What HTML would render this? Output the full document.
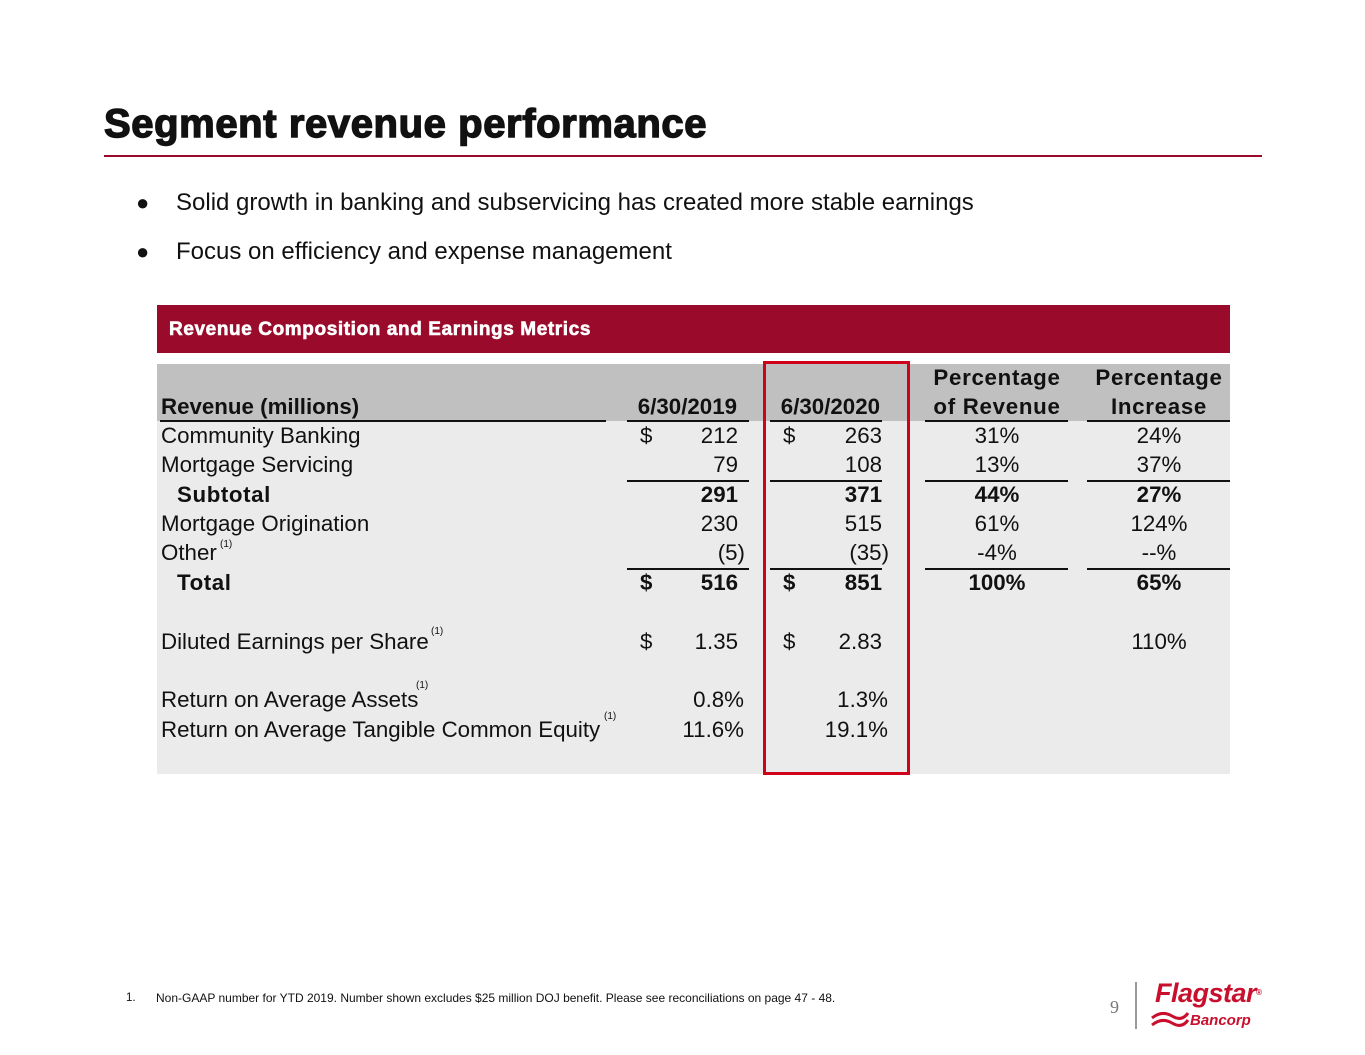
<!DOCTYPE html>
<html><head><meta charset="utf-8"><style>
body{margin:0;width:1365px;height:1055px;background:#fff;position:relative;overflow:hidden;font-family:"Liberation Sans",Arial,sans-serif;color:#111}
.a{position:absolute;white-space:nowrap;line-height:30px;font-size:22.3px}
.r{text-align:right}
.c{text-align:center;width:160px}
.b{font-weight:bold}
.l{position:absolute;height:2px;background:#111}
.s{position:absolute;font-size:10px;line-height:10px;white-space:nowrap}
</style></head><body>
<div class="a b" style="left:104px;top:101px;font-size:40px;line-height:46px;letter-spacing:0.6px;-webkit-text-stroke:1.4px #111">Segment revenue performance</div>
<div style="position:absolute;left:104px;top:155px;width:1158px;height:2px;background:#9b0a2a"></div>
<div class="a" style="left:136px;top:188px;font-size:22px">●</div>
<div class="a" style="left:176px;top:188px;font-size:24px">Solid growth in banking and subservicing has created more stable earnings</div>
<div class="a" style="left:136px;top:237px;font-size:22px">●</div>
<div class="a" style="left:176px;top:237px;font-size:24px">Focus on efficiency and expense management</div>

<div style="position:absolute;left:157px;top:305px;width:1073px;height:48px;background:#990a2b"></div>
<div class="a b" style="left:169px;top:315px;color:#fff;font-size:19px;letter-spacing:0.6px;-webkit-text-stroke:0.6px #fff">Revenue Composition and Earnings Metrics</div>
<div style="position:absolute;left:157px;top:364px;width:1073px;height:57px;background:#c0c0c0"></div>
<div style="position:absolute;left:157px;top:421px;width:1073px;height:353px;background:#ebebeb"></div>

<div class="a b" style="left:161px;top:392px">Revenue (millions)</div>
<div class="a b r" style="right:628px;top:392px">6/30/2019</div>
<div class="a b r" style="right:485px;top:392px">6/30/2020</div>
<div class="a b c" style="left:917px;top:363px;line-height:29px;letter-spacing:0.7px">Percentage<br>of Revenue</div>
<div class="a b c" style="left:1079px;top:363px;line-height:29px;letter-spacing:0.7px">Percentage<br>Increase</div>

<div class="l" style="left:160px;top:420px;width:446px"></div>
<div class="l" style="left:627px;top:420px;width:122px"></div>
<div class="l" style="left:770px;top:420px;width:112px"></div>
<div class="l" style="left:925px;top:420px;width:143px"></div>
<div class="l" style="left:1087px;top:420px;width:143px"></div>

<div class="l" style="left:627px;top:480px;width:122px"></div>
<div class="l" style="left:770px;top:480px;width:112px"></div>
<div class="l" style="left:925px;top:480px;width:143px"></div>
<div class="l" style="left:1087px;top:480px;width:143px"></div>
<div class="l" style="left:627px;top:568px;width:122px"></div>
<div class="l" style="left:770px;top:568px;width:112px"></div>
<div class="l" style="left:925px;top:568px;width:143px"></div>
<div class="l" style="left:1087px;top:568px;width:143px"></div>

<div class="a" style="left:161px;top:421px">Community Banking</div>
<div class="a" style="left:640px;top:421px">$</div>
<div class="a r" style="right:627px;top:421px">212</div>
<div class="a" style="left:783px;top:421px">$</div>
<div class="a r" style="right:483px;top:421px">263</div>
<div class="a c" style="left:917px;top:421px">31%</div>
<div class="a c" style="left:1079px;top:421px">24%</div>

<div class="a" style="left:161px;top:450px">Mortgage Servicing</div>
<div class="a r" style="right:627px;top:450px">79</div>
<div class="a r" style="right:483px;top:450px">108</div>
<div class="a c" style="left:917px;top:450px">13%</div>
<div class="a c" style="left:1079px;top:450px">37%</div>

<div class="a b" style="left:177px;top:480px;letter-spacing:0.6px">Subtotal</div>
<div class="a b r" style="right:627px;top:480px">291</div>
<div class="a b r" style="right:483px;top:480px">371</div>
<div class="a b c" style="left:917px;top:480px">44%</div>
<div class="a b c" style="left:1079px;top:480px">27%</div>

<div class="a" style="left:161px;top:509px">Mortgage Origination</div>
<div class="a r" style="right:627px;top:509px">230</div>
<div class="a r" style="right:483px;top:509px">515</div>
<div class="a c" style="left:917px;top:509px">61%</div>
<div class="a c" style="left:1079px;top:509px">124%</div>

<div class="a" style="left:161px;top:538px">Other</div>
<div class="s" style="left:220px;top:540px">(1)</div>
<div class="a r" style="right:620px;top:538px">(5)</div>
<div class="a r" style="right:476px;top:538px">(35)</div>
<div class="a c" style="left:917px;top:538px">-4%</div>
<div class="a c" style="left:1079px;top:538px">--%</div>

<div class="a b" style="left:177px;top:568px;letter-spacing:0.6px">Total</div>
<div class="a b" style="left:640px;top:568px">$</div>
<div class="a b r" style="right:627px;top:568px">516</div>
<div class="a b" style="left:783px;top:568px">$</div>
<div class="a b r" style="right:483px;top:568px">851</div>
<div class="a b c" style="left:917px;top:568px">100%</div>
<div class="a b c" style="left:1079px;top:568px">65%</div>

<div class="a" style="left:161px;top:627px">Diluted Earnings per Share</div>
<div class="s" style="left:431px;top:627px">(1)</div>
<div class="a" style="left:640px;top:627px">$</div>
<div class="a r" style="right:627px;top:627px">1.35</div>
<div class="a" style="left:783px;top:627px">$</div>
<div class="a r" style="right:483px;top:627px">2.83</div>
<div class="a c" style="left:1079px;top:627px">110%</div>

<div class="a" style="left:161px;top:685px">Return on Average Assets</div>
<div class="s" style="left:416px;top:681px">(1)</div>
<div class="a r" style="right:621px;top:685px">0.8%</div>
<div class="a r" style="right:477px;top:685px">1.3%</div>

<div class="a" style="left:161px;top:715px">Return on Average Tangible Common Equity</div>
<div class="s" style="left:604px;top:712px">(1)</div>
<div class="a r" style="right:621px;top:715px">11.6%</div>
<div class="a r" style="right:477px;top:715px">19.1%</div>

<div style="position:absolute;left:763px;top:361px;width:141px;height:408px;border:3px solid #d0021b"></div>

<div class="a" style="left:126px;top:983px;font-size:11.5px">1.</div>
<div class="a" style="left:156px;top:983px;font-size:12px">Non-GAAP number for YTD 2019. Number shown excludes $25 million DOJ benefit. Please see reconciliations on page 47 - 48.</div>
<div class="a" style="left:1110px;top:992px;font-size:18px;color:#777;font-family:'Liberation Serif',serif">9</div>
<div style="position:absolute;left:1135px;top:982px;width:2px;height:47px;background:#999"></div>
<div class="a b" style="left:1155px;top:978px;font-size:27px;color:#c8102e;font-style:italic;letter-spacing:-0.5px">Flagstar<span style="font-size:8px;vertical-align:top">®</span></div>
<div class="a b" style="left:1190px;top:1006px;font-size:15px;color:#c8102e;font-style:italic">Bancorp</div>
<svg style="position:absolute;left:1150px;top:1010px" width="40" height="18"><path d="M2 8 Q12 0 22 6 T38 3" stroke="#c8102e" stroke-width="3" fill="none"/><path d="M2 15 Q12 7 22 13 T38 10" stroke="#c8102e" stroke-width="3" fill="none"/></svg>
</body></html>
